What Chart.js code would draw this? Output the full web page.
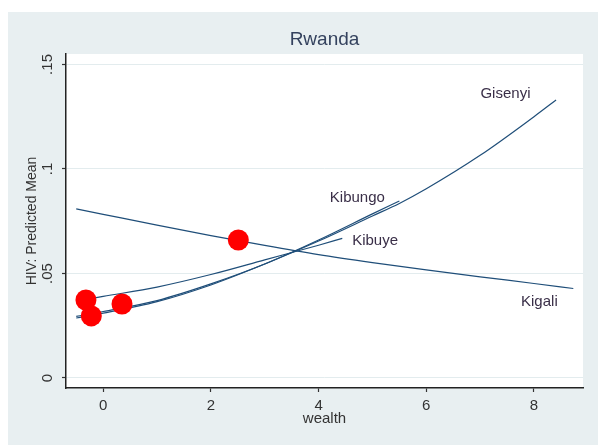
<!DOCTYPE html>
<html>
<head>
<meta charset="utf-8">
<script src="https://cdn.jsdelivr.net/npm/chart.js@4/dist/chart.umd.min.js"></script>
<style>
  html, body { margin: 0; padding: 0; background: #ffffff; }
  canvas { display: block; }
</style>
</head>
<body>
<canvas id="chart" width="598" height="445"></canvas>
<script>
// Axis ticks
const xTicks = [0, 2, 4, 6, 8];
const yTicks = [0, 0.05, 0.1, 0.15];
const yTickLabels = ['0', '.05', '.1', '.15'];

// Predicted mean HIV by wealth, one curve per region
const kigaliWealth = [-0.5, 0, 1, 2, 3, 4, 5, 6, 7, 8, 8.73];
const kigaliHiv    = [0.0809, 0.0783, 0.0731, 0.0681, 0.0634, 0.0590, 0.0552, 0.0517, 0.0484, 0.0452, 0.0428];

const gisenyiWealth = [-0.5, 0, 1, 2, 3, 4, 5, 5.5, 6, 7, 8, 8.41];
const gisenyiHiv    = [0.0287, 0.0310, 0.0365, 0.0445, 0.0545, 0.0655, 0.0775, 0.0835, 0.0905, 0.1065, 0.1250, 0.1330];

const kibungoWealth = [-0.5, 0, 1, 2, 3, 4, 5, 5.5];
const kibungoHiv    = [0.0295, 0.0318, 0.0370, 0.0450, 0.0545, 0.0660, 0.0785, 0.0847];

const kibuyeWealth = [-0.5, 0, 1, 2, 3, 4, 4.44];
const kibuyeHiv    = [0.0367, 0.0390, 0.0435, 0.0495, 0.0565, 0.0635, 0.0668];

// Observed region means
const observedWealth = [-0.32, -0.22, 0.35, 2.51];
const observedHiv    = [0.0373, 0.0297, 0.0354, 0.0660];

// Curve labels and where they sit (data units)
const regionNames = ['Gisenyi', 'Kibungo', 'Kibuye', 'Kigali'];
const labelWealth = [7.47, 4.72, 5.05, 8.10];
const labelHiv    = [0.1359, 0.0861, 0.0656, 0.0364];

const FONT = '"Liberation Sans", Arial, sans-serif';
const LINE_COLOR = '#1f4e79';

const toPoints = (xs, ys) => xs.map((x, i) => ({ x: x, y: ys[i] }));

function curve(label, xs, ys) {
  return {
    type: 'line',
    label: label,
    data: toPoints(xs, ys),
    borderColor: LINE_COLOR,
    borderWidth: 1.2,
    pointRadius: 0,
    fill: false,
    cubicInterpolationMode: 'monotone'
  };
}

// Light panel behind everything, white plot region
const backgroundPlugin = {
  id: 'panelBackground',
  beforeDraw(chart) {
    const { ctx, chartArea } = chart;
    ctx.save();
    ctx.fillStyle = '#ffffff';
    ctx.fillRect(0, 0, chart.width, chart.height);
    ctx.fillStyle = '#e8eff1';
    ctx.fillRect(8, 12, chart.width - 8, chart.height - 12);
    ctx.fillStyle = '#ffffff';
    ctx.fillRect(chartArea.left, chartArea.top, chartArea.right - chartArea.left, chartArea.bottom - chartArea.top);
    ctx.restore();
  }
};

// Region names next to their curves
const curveLabelPlugin = {
  id: 'curveLabels',
  afterDatasetsDraw(chart) {
    const { ctx, scales } = chart;
    ctx.save();
    ctx.font = '15px ' + FONT;
    ctx.fillStyle = '#3a2f48';
    ctx.textAlign = 'center';
    ctx.textBaseline = 'middle';
    regionNames.forEach((name, i) => {
      ctx.fillText(name, scales.x.getPixelForValue(labelWealth[i]), scales.y.getPixelForValue(labelHiv[i]));
    });
    ctx.restore();
  }
};

new Chart(document.getElementById('chart'), {
  data: {
    datasets: [
      {
        type: 'scatter',
        label: 'observed',
        data: toPoints(observedWealth, observedHiv),
        backgroundColor: '#ff0000',
        borderWidth: 0,
        pointRadius: 10.5
      },
      curve('Kigali', kigaliWealth, kigaliHiv),
      curve('Gisenyi', gisenyiWealth, gisenyiHiv),
      curve('Kibungo', kibungoWealth, kibungoHiv),
      curve('Kibuye', kibuyeWealth, kibuyeHiv)
    ]
  },
  options: {
    responsive: false,
    animation: false,
    events: [],
    layout: { padding: { left: 0, top: 0, right: 15, bottom: 0 } },
    plugins: {
      legend: { display: false },
      tooltip: { enabled: false },
      title: {
        display: true,
        text: 'Rwanda',
        fullSize: false,
        color: '#34425e',
        font: { family: FONT, size: 19, weight: 'normal' },
        padding: { top: 28.6, bottom: 2.6 }
      }
    },
    scales: {
      x: {
        type: 'linear',
        min: -0.69,
        max: 8.91,
        afterBuildTicks(scale) { scale.ticks = xTicks.map(v => ({ value: v })); },
        afterFit(scale) { scale.height = 57; },
        ticks: {
          color: '#333333',
          font: { family: FONT, size: 15 },
          padding: 5,
          maxRotation: 0,
          callback: (v, i) => String(xTicks[i])
        },
        grid: { drawOnChartArea: false, drawTicks: true, tickLength: 4, tickColor: '#333333', tickWidth: 1.2 },
        border: { display: true, color: '#222222', width: 1.5 },
        title: {
          display: true,
          text: 'wealth',
          color: '#333333',
          font: { family: FONT, size: 15 },
          padding: { top: 0, bottom: 17 }
        }
      },
      y: {
        type: 'linear',
        min: -0.0048,
        max: 0.155,
        afterBuildTicks(scale) { scale.ticks = yTicks.map(v => ({ value: v })); },
        afterFit(scale) { scale.width = 66; },
        ticks: {
          color: '#333333',
          font: { family: FONT, size: 15 },
          minRotation: 90,
          maxRotation: 90,
          crossAlign: 'center',
          padding: 4,
          callback: (v, i) => yTickLabels[i]
        },
        grid: { drawOnChartArea: true, color: '#e3ecee', lineWidth: 1, drawTicks: true, tickLength: 4, tickColor: '#333333', tickWidth: 1.2 },
        border: { display: true, color: '#222222', width: 1.5 },
        title: {
          display: true,
          text: 'HIV: Predicted Mean',
          color: '#333333',
          font: { family: FONT, size: 14 },
          padding: { top: 23.6, bottom: 0 }
        }
      }
    }
  },
  plugins: [backgroundPlugin, curveLabelPlugin]
});
</script>
</body>
</html>
